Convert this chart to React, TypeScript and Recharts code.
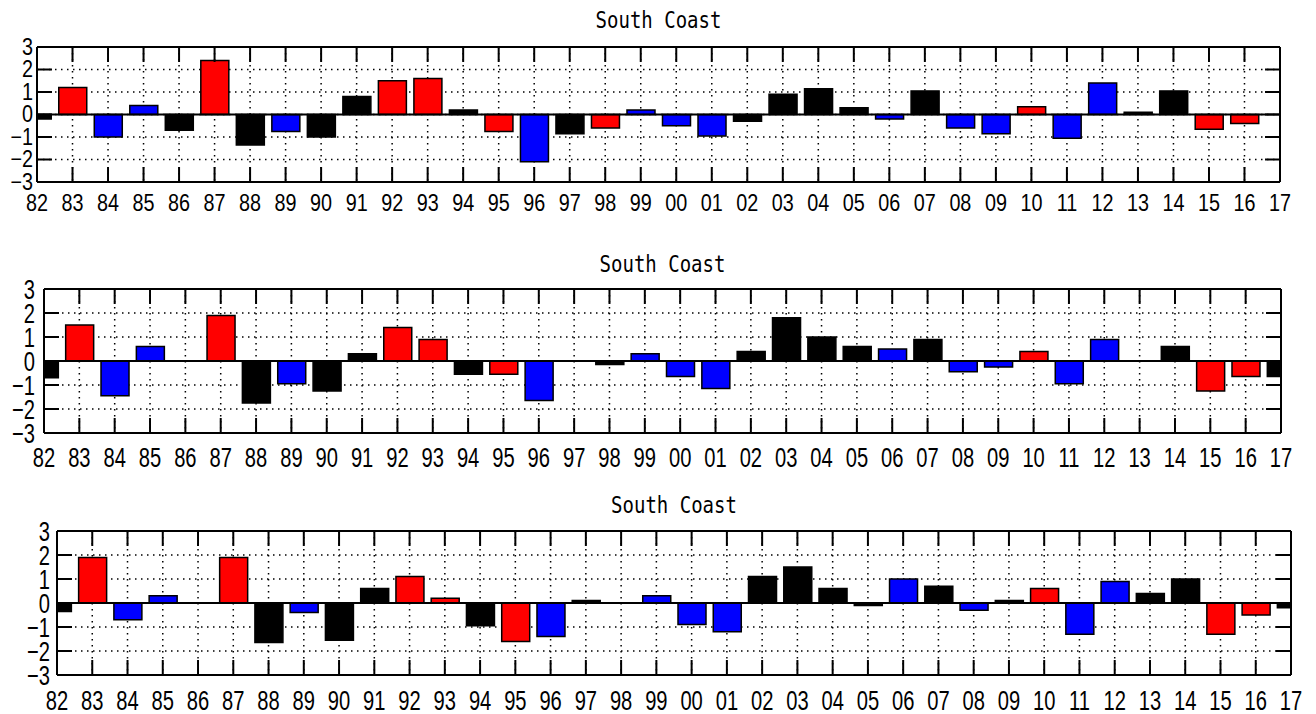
import React from "react";
import { Bar, BarChart, CartesianGrid, Cell, ReferenceLine, XAxis, YAxis } from "recharts";

const years = [
    "82", "83", "84", "85", "86", "87", "88", "89", "90", "91", "92", "93",
    "94", "95", "96", "97", "98", "99", "00", "01", "02", "03", "04", "05",
    "06", "07", "08", "09", "10", "11", "12", "13", "14", "15", "16", "17",
];
const yTicks = [-3, -2, -1, 0, 1, 2, 3];
const title = "South Coast";

// top panel
const coast1Values = [
    -0.2, 1.2, -1.0, 0.4, -0.7, 2.4, -1.35, -0.75, -1.0, 0.8, 1.5, 1.6,
    0.2, -0.75, -2.1, -0.85, -0.6, 0.2, -0.5, -0.95, -0.3, 0.9, 1.15, 0.3,
    -0.2, 1.05, -0.6, -0.85, 0.35, -1.05, 1.4, 0.1, 1.05, -0.65, -0.4, null,
];
const coast1Colors = [
    "k", "r", "b", "b", "k", "r", "k", "b", "k", "k", "r", "r",
    "k", "r", "b", "k", "r", "b", "b", "b", "k", "k", "k", "k",
    "b", "k", "b", "b", "r", "b", "b", "k", "k", "r", "r", "k",
];

// middle panel
const coast2Values = [
    -0.7, 1.5, -1.45, 0.6, null, 1.9, -1.75, -0.95, -1.25, 0.3, 1.4, 0.9,
    -0.55, -0.55, -1.65, null, -0.15, 0.3, -0.65, -1.15, 0.4, 1.8, 1.0, 0.6,
    0.5, 0.9, -0.45, -0.25, 0.4, -0.95, 0.9, null, 0.6, -1.25, -0.65, -0.65,
];
const coast2Colors = [
    "k", "r", "b", "b", "k", "r", "k", "b", "k", "k", "r", "r",
    "k", "r", "b", "k", "k", "b", "b", "b", "k", "k", "k", "k",
    "b", "k", "b", "b", "r", "b", "b", "k", "k", "r", "r", "k",
];

// bottom panel
const coast3Values = [
    -0.35, 1.9, -0.7, 0.3, null, 1.9, -1.65, -0.4, -1.55, 0.6, 1.1, 0.2,
    -0.95, -1.6, -1.4, 0.1, null, 0.3, -0.9, -1.2, 1.1, 1.5, 0.6, -0.1,
    1.0, 0.7, -0.3, 0.1, 0.6, -1.3, 0.9, 0.4, 1.0, -1.3, -0.5, -0.2,
];
const coast3Colors = [
    "k", "r", "b", "b", "k", "r", "k", "b", "k", "k", "r", "r",
    "k", "r", "b", "k", "k", "b", "b", "b", "k", "k", "k", "k",
    "b", "k", "b", "k", "r", "b", "b", "k", "k", "r", "r", "k",
];

const FILLS: Record<string, string> = { r: "#ff0000", b: "#0000ff", k: "#000000" };
const TICK_FONT = "'Liberation Sans', Arial, sans-serif";
const TITLE_FONT = "'DejaVu Sans Mono', 'Liberation Mono', monospace";
const xTicks = years.map((_, i) => i);
const TICK_LEN = 15;
const W = 1316;

type Layout = {
    top: number;
    height: number;
    left: number;
    right: number;
    plotTop: number;
    plotBottom: number;
    titleY: number;
    labelDy: number;
    yGap: number;
    fontSize: number;
    squeeze: number;
};

// narrow tick text: regular font squeezed sideways
function NarrowText({ x, y, anchor, lay, children }: any) {
    return (
        <text
            transform={`translate(${x},${y}) scale(${lay.squeeze},1)`}
            x={0}
            y={0}
            textAnchor={anchor}
            dominantBaseline="central"
            fontFamily={TICK_FONT}
            fontSize={lay.fontSize}
            fill="#000"
        >
            {children}
        </text>
    );
}

function Panel({ values, colors, lay }: { values: (number | null)[]; colors: string[]; lay: Layout }) {
    const data = years.map((y, i) => ({ i, year: y, v: values[i], c: colors[i] }));
    return (
        <div style={{ position: "absolute", left: 0, top: lay.top, width: W, height: lay.height }}>
            <div
                style={{
                    position: "absolute",
                    left: lay.left,
                    width: lay.right - lay.left,
                    top: lay.titleY - 12,
                    height: 24,
                    lineHeight: "24px",
                    textAlign: "center",
                    fontFamily: TITLE_FONT,
                    fontSize: 19,
                    color: "#000",
                    transform: "scaleY(1.25)",
                }}
            >
                {title}
            </div>
            <BarChart
                width={W}
                height={lay.height}
                data={data}
                margin={{ top: 0, right: 0, bottom: 0, left: 0 }}
            >
                <CartesianGrid stroke="#000" strokeWidth={1.5} strokeDasharray="1.5 4.5" />
                <XAxis
                    dataKey="i"
                    type="number"
                    domain={[0, 35]}
                    ticks={xTicks}
                    interval={0}
                    allowDataOverflow
                    height={lay.height - lay.plotBottom}
                    tickSize={0}
                    tickMargin={0}
                    tickLine={false}
                    axisLine={{ stroke: "#000", strokeWidth: 2 }}
                    tick={(p: any) => (
                        <g>
                            <line x1={p.x} x2={p.x} y1={p.y} y2={p.y - TICK_LEN} stroke="#000" strokeWidth={2} />
                            <NarrowText x={p.x} y={p.y + lay.labelDy} anchor="middle" lay={lay}>
                                {years[p.payload.value]}
                            </NarrowText>
                        </g>
                    )}
                />
                <XAxis
                    xAxisId="top"
                    orientation="top"
                    type="number"
                    domain={[0, 35]}
                    ticks={xTicks}
                    interval={0}
                    allowDataOverflow
                    height={lay.plotTop}
                    tickSize={0}
                    tickMargin={0}
                    tickLine={false}
                    axisLine={{ stroke: "#000", strokeWidth: 2 }}
                    tick={(p: any) => (
                        <line x1={p.x} x2={p.x} y1={p.y} y2={p.y + TICK_LEN} stroke="#000" strokeWidth={2} />
                    )}
                />
                <YAxis
                    type="number"
                    domain={[-3, 3]}
                    ticks={yTicks}
                    interval={0}
                    allowDataOverflow
                    width={lay.left}
                    tickSize={0}
                    tickMargin={0}
                    tickLine={false}
                    axisLine={{ stroke: "#000", strokeWidth: 2 }}
                    tick={(p: any) => (
                        <g>
                            <line x1={p.x} x2={p.x + TICK_LEN} y1={p.y} y2={p.y} stroke="#000" strokeWidth={2} />
                            <NarrowText x={p.x - lay.yGap} y={p.y} anchor="end" lay={lay}>
                                {String(p.payload.value).replace("-", "\u2212")}
                            </NarrowText>
                        </g>
                    )}
                />
                <YAxis
                    yAxisId="right"
                    orientation="right"
                    type="number"
                    domain={[-3, 3]}
                    ticks={yTicks}
                    interval={0}
                    allowDataOverflow
                    width={W - lay.right}
                    tickSize={0}
                    tickMargin={0}
                    tickLine={false}
                    axisLine={{ stroke: "#000", strokeWidth: 2 }}
                    tick={(p: any) => (
                        <line x1={p.x} x2={p.x - TICK_LEN} y1={p.y} y2={p.y} stroke="#000" strokeWidth={2} />
                    )}
                />
                <Bar dataKey="v" barSize={28} stroke="#000" strokeWidth={1.5} isAnimationActive={false}>
                    {data.map((d, idx) => (
                        <Cell key={`c-${idx}`} fill={FILLS[d.c]} />
                    ))}
                </Bar>
                <ReferenceLine y={0} stroke="#000" strokeWidth={2} />
            </BarChart>
        </div>
    );
}

const layout1: Layout = { top: 0, height: 232, left: 37, right: 1280, plotTop: 47, plotBottom: 182, titleY: 19, labelDy: 21, yGap: 4, fontSize: 23, squeeze: 0.86 };
const layout2: Layout = { top: 230, height: 248, left: 44, right: 1281, plotTop: 59, plotBottom: 203, titleY: 33, labelDy: 24, yGap: 9, fontSize: 28, squeeze: 0.72 };
const layout3: Layout = { top: 470, height: 244, left: 57, right: 1291, plotTop: 61, plotBottom: 205, titleY: 34, labelDy: 25, yGap: 7, fontSize: 28, squeeze: 0.72 };

export default function App() {
    return (
        <div style={{ position: "absolute", left: 0, top: 0, width: W, height: 714, background: "#fff" }}>
            <Panel values={coast1Values} colors={coast1Colors} lay={layout1} />
            <Panel values={coast2Values} colors={coast2Colors} lay={layout2} />
            <Panel values={coast3Values} colors={coast3Colors} lay={layout3} />
        </div>
    );
}
